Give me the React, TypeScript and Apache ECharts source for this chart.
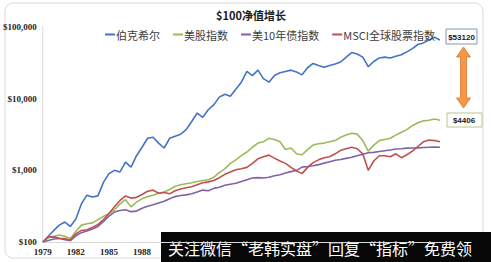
import React, { useEffect, useRef } from "react";
import * as echarts from "echarts";

const title = "$100净值增长";
const seriesNames = ["伯克希尔", "美股指数", "美10年债指数", "MSCI全球股票指数"];
const seriesColors = ["#4472C4", "#9BBB59", "#7F62A8", "#C0504D"];
const startYear = 1979;
const lastVisibleTickYear = 1988;
const years = [
  1979, 1979.5, 1980, 1980.5, 1981, 1981.5, 1982, 1982.5, 1983, 1983.5,
  1984, 1984.5, 1985, 1985.5, 1986, 1986.5, 1987, 1987.5, 1988, 1988.5,
  1989, 1989.5, 1990, 1990.5, 1991, 1991.5, 1992, 1992.5, 1993, 1993.5,
  1994, 1994.5, 1995, 1995.5, 1996, 1996.5, 1997, 1997.5, 1998, 1998.5,
  1999, 1999.5, 2000, 2000.5, 2001, 2001.5, 2002, 2002.5, 2003, 2003.5,
  2004, 2004.5, 2005, 2005.5, 2006, 2006.5, 2007, 2007.5, 2008, 2008.5,
  2009, 2009.5, 2010, 2010.5, 2011, 2011.5, 2012, 2012.5, 2013, 2013.5,
  2014, 2014.5, 2015,
];
const berkshire = [
  100, 120, 145, 172, 190, 165, 210, 340, 450, 425,
  440, 680, 900, 1000, 950, 1300, 1110, 1600, 2100, 2800,
  2900, 2400, 2050, 2800, 3000, 3200, 3700, 4800, 6300, 5500,
  7000, 8200, 10500, 11500, 10800, 13500, 17000, 24000, 21000, 25000,
  19000, 17000, 21000, 23000, 24000, 25000, 23500, 21500, 27000, 31000,
  29000, 27500, 29000, 30500, 32500, 38000, 44000, 42000, 38000, 28000,
  33000, 37000, 38000, 37000, 39000, 41000, 45000, 50000, 57000, 60000,
  66000, 72000, 66000,
];
const usStocks = [
  100, 115, 120, 125, 120, 112, 140, 172, 180, 185,
  205, 228, 250, 280, 340, 390, 310, 360, 400, 430,
  450, 480, 500, 540, 600, 630, 650, 670, 700, 720,
  740, 800, 930, 1050, 1250, 1400, 1600, 1800, 2100, 2400,
  2500, 2800, 2700, 2500, 1950, 2050, 1700, 1650, 1950, 2250,
  2350, 2400, 2500, 2600, 2900, 3100, 3300, 3200, 2600, 1850,
  2250, 2600, 2700, 2800, 3100, 3400, 3700, 4200, 4600, 4900,
  5000, 5200, 5000,
];
const usBonds = [
  100, 105, 110, 112, 108, 104, 122, 135, 142, 152,
  165, 192, 230, 262, 275, 282, 265, 270, 295, 315,
  330, 350, 370, 400, 430, 445, 455, 470, 500, 530,
  520, 560, 580, 620, 640, 660, 700, 740, 780, 790,
  780, 800, 840, 870, 920, 960, 1000, 1110, 1130, 1160,
  1200, 1260, 1320, 1380, 1420, 1470, 1520, 1600, 1680, 1760,
  1780, 1830, 1880, 1920, 1980, 2000, 2040, 2050, 2060, 2080,
  2100, 2110, 2100,
];
const msciWorld = [
  100, 117, 118, 113, 112, 106, 130, 145, 148, 160,
  175, 205, 250, 310, 380, 440, 410, 420, 460, 510,
  530, 480, 490, 470, 520, 550, 570, 590, 630, 670,
  690, 720, 790, 880, 950, 1020, 1050, 1100, 1250, 1450,
  1550, 1630, 1480, 1350, 1250, 1100, 980, 900, 1100, 1280,
  1400, 1500, 1550, 1700, 1900, 2000, 2100, 2000, 1700, 1000,
  1350, 1600, 1600, 1550, 1700, 1500, 1650, 1850, 2150, 2500,
  2650, 2600, 2500,
];
const allSeries = [berkshire, usStocks, usBonds, msciWorld];
const endLabels = ["$53120", "$4406"];
const watermark = "关注微信“老韩实盘”回复“指标”免费领";

export default function App() {
  const ref = useRef<HTMLDivElement>(null);
  useEffect(() => {
    if (!ref.current) return;
    const chart = echarts.init(ref.current, undefined, { renderer: "svg" });
    const axisFont = { fontFamily: "Liberation Serif", fontWeight: "bold" as const, fontSize: 9, color: "#262626" };
    chart.setOption({
      animation: false,
      backgroundColor: "#ffffff",
      title: {
        text: title,
        left: 246,
        top: 4,
        textAlign: "center",
        textStyle: { fontSize: 11, fontWeight: "bold", color: "#1a1a1a", fontFamily: "Noto Sans CJK SC" },
      },
      legend: {
        data: seriesNames,
        left: 100,
        top: 24,
        icon: "rect",
        itemWidth: 10,
        itemHeight: 2,
        itemGap: 13,
        textStyle: { fontSize: 11, color: "#404040", fontFamily: "Noto Sans CJK SC", padding: [0, 0, 0, -4] },
      },
      grid: { left: 41, top: 27, right: 40, bottom: 20 },
      xAxis: {
        type: "value",
        min: 0,
        max: 37,
        interval: 3,
        axisLine: { show: true, lineStyle: { color: "#d9d9d9" } },
        axisTick: { show: false },
        splitLine: { show: false },
        axisLabel: {
          ...axisFont,
          margin: 5,
          showMaxLabel: false,
          formatter: (v: number) => (startYear + v <= lastVisibleTickYear ? String(startYear + v) : ""),
        },
      },
      yAxis: {
        type: "log",
        logBase: 10,
        min: 100,
        max: 100000,
        axisLine: { show: true, lineStyle: { color: "#d9d9d9" } },
        axisTick: { show: false },
        splitLine: { show: false },
        axisLabel: {
          ...axisFont,
          margin: 6,
          formatter: (v: number) => "$" + Math.round(v).toLocaleString("en-US"),
        },
      },
      series: seriesNames.map((name, i) => ({
        name,
        type: "line",
        showSymbol: false,
        symbol: "none",
        color: seriesColors[i],
        lineStyle: { width: 1.6, color: seriesColors[i] },
        data: years.map((y, k) => [y - startYear, allSeries[i][k]]),
        z: i === 2 ? 2 : 3,
      })),
      graphic: [
        {
          type: "rect",
          shape: { x: 5, y: 3, width: 478, height: 255, r: 8 },
          style: { fill: "none", stroke: "#d9d9d9", lineWidth: 1 },
          silent: true,
        },
        {
          type: "rect",
          shape: { x: 446, y: 29, width: 31, height: 15 },
          style: { fill: "#ffffff", stroke: "#8497b0", lineWidth: 1 },
        },
        {
          type: "text",
          x: 461.5,
          y: 37,
          style: { text: endLabels[0], fill: "#1a1a1a", fontSize: 8, fontWeight: "bold", fontFamily: "Liberation Sans", align: "center", verticalAlign: "middle" },
        },
        {
          type: "rect",
          shape: { x: 447, y: 113, width: 35, height: 14 },
          style: { fill: "#ffffff", stroke: "#b4c98a", lineWidth: 1 },
        },
        {
          type: "text",
          x: 464,
          y: 120.5,
          style: { text: endLabels[1], fill: "#1a1a1a", fontSize: 8, fontWeight: "bold", fontFamily: "Liberation Sans", align: "center", verticalAlign: "middle" },
        },
        {
          type: "polygon",
          shape: {
            points: [
              [463.5, 47], [470.5, 57], [466.5, 57], [466.5, 98], [470.5, 98],
              [463.5, 108], [456.5, 98], [460.5, 98], [460.5, 57], [456.5, 57],
            ],
          },
          style: { fill: "#F79646", stroke: "#d9782e", lineWidth: 0.8 },
        },
        {
          type: "rect",
          shape: { x: 161, y: 232, width: 330, height: 30 },
          style: { fill: "#080808" },
        },
        {
          type: "text",
          x: 168,
          y: 248,
          style: { text: watermark, fill: "#ffffff", fontSize: 16, fontFamily: "Noto Sans CJK SC", verticalAlign: "middle" },
        },
      ],
    });
    return () => chart.dispose();
  }, []);
  return <div ref={ref} style={{ position: "fixed", left: 0, top: 0, width: 491, height: 262 }} />;
}
